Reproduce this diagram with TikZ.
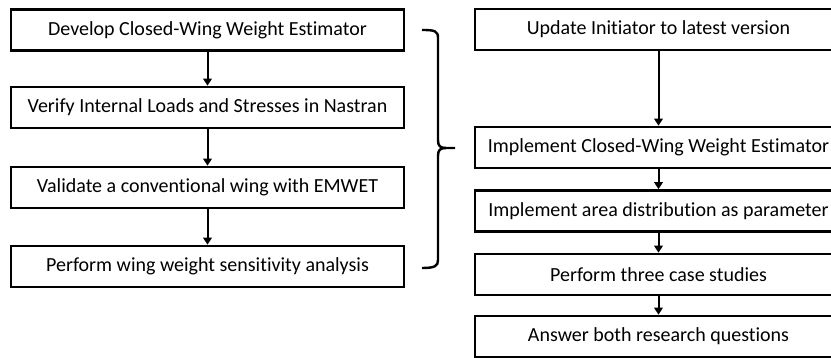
\documentclass[tikz,border=0pt]{standalone}
\usepackage{fontspec}
\setmainfont[Ligatures={NoCommon}]{Carlito}
\usetikzlibrary{arrows.meta}
\begin{document}
\begin{tikzpicture}[x=1pt,y=-1pt,
  stepbox/.style={draw=black,line width=2.6pt,minimum height=41pt,inner sep=0pt,font=\fontsize{20}{22}\selectfont,anchor=center},
  lbox/.style={stepbox,minimum width=393pt},
  rbox/.style={stepbox,minimum width=367pt},
  conn/.style={line width=2pt,-{Triangle[length=7pt,width=8.5pt]}},
  brace/.style={line width=2.4pt}]
\clip (0,0) rectangle (831,358);
\useasboundingbox (0,0) rectangle (831,358);
\node[lbox] (l1) at (207.5,30) {Develop Closed-Wing Weight Estimator};
\node[lbox] (l2) at (207.5,107.5) {Verify Internal Loads and Stresses in Nastran};
\node[lbox] (l3) at (207.5,187.5) {Validate a conventional wing with EMWET};
\node[lbox] (l4) at (207.5,266.5) {Perform wing weight sensitivity analysis};
\node[rbox] (r1) at (658.5,29.5) {Update Initiator to latest version};
\node[rbox] (r2) at (658.5,147.5) {Implement Closed-Wing Weight Estimator};
\node[rbox] (r3) at (658.5,211) {Implement area distribution as parameter};
\node[rbox] (r4) at (658.5,274.5) {Perform three case studies};
\node[rbox] (r5) at (658.5,336.5) {Answer both research questions};
\draw[conn] (l1) -- (l2);
\draw[conn] (l2) -- (l3);
\draw[conn] (l3) -- (l4);
\draw[conn] (r1) -- (r2);
\draw[conn] (r2) -- (r3);
\draw[conn] (r3) -- (r4);
\draw[conn] (r4) -- (r5);
\coordinate (btop) at (422,30);
\coordinate (btip) at (455,148);
\coordinate (bbot) at (422,268);
\draw[brace] (btop) .. controls (435,30) and (438,31) .. (438,38) -- (438,140)
  .. controls (438,146) and (440,148) .. (446,148) -- (btip);
\draw[brace] (446,148) .. controls (440,148) and (438,150) .. (438,156) -- (438,260)
  .. controls (438,266) and (435,268) .. (bbot);
\end{tikzpicture}
\end{document}
